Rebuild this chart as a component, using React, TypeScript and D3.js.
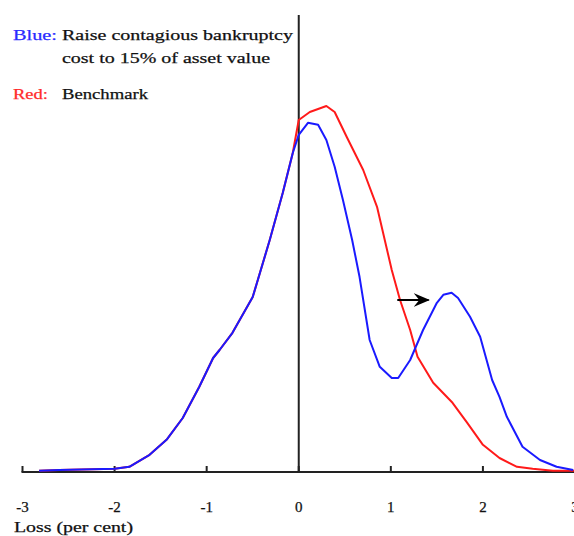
import React from "react";
import * as d3 from "d3";

// Loss (per cent) and density (arbitrary units) for the shared left tail
const leftLoss = [-2.82, -2.6, -2.0, -1.84, -1.62, -1.43, -1.26, -1.08, -0.93, -0.86, -0.72, -0.5, -0.315, -0.174, -0.065];
const leftDensity = [0.003, 0.005, 0.008, 0.013, 0.043, 0.082, 0.135, 0.213, 0.285, 0.305, 0.348, 0.4375, 0.58, 0.6975, 0.7975];

// Benchmark (red)
const redLoss = [0, 0.12, 0.3, 0.39, 0.52, 0.7, 0.85, 1.01, 1.1, 1.21, 1.29, 1.46, 1.67, 1.83, 2.0, 2.18, 2.37, 2.54, 2.76, 2.99];
const redDensity = [0.88, 0.9, 0.915, 0.9, 0.838, 0.755, 0.663, 0.505, 0.43, 0.355, 0.288, 0.223, 0.173, 0.123, 0.068, 0.035, 0.013, 0.008, 0.003, 0.003];

// Raised contagious bankruptcy cost (blue)
const blueLoss = [0, 0.1, 0.21, 0.3, 0.39, 0.48, 0.58, 0.66, 0.77, 0.88, 1.01, 1.08, 1.21, 1.35, 1.5, 1.57, 1.66, 1.73, 1.86, 1.97, 2.1, 2.18, 2.26, 2.43, 2.62, 2.8, 2.98];
const blueDensity = [0.843, 0.873, 0.868, 0.83, 0.763, 0.68, 0.58, 0.488, 0.33, 0.263, 0.235, 0.235, 0.28, 0.355, 0.423, 0.443, 0.448, 0.435, 0.388, 0.338, 0.23, 0.188, 0.138, 0.063, 0.03, 0.013, 0.005];

const tickValues = [-3, -2, -1, 0, 1, 2, 3];

// Shift arrow (loss units, density units)
const arrowFrom = [1.07, 0.43];
const arrowTo = [1.41, 0.43];

type Pt = [number, number];
const toPts = (xs: number[], ys: number[]): Pt[] => xs.map((x, i) => [x, ys[i]]);

export default function App() {
  const W = 574;
  const H = 536;
  const x = d3.scaleLinear().domain([-3, 3]).range([22.5, 575]);
  const y = d3.scaleLinear().domain([0, 1]).range([472, 72]);

  const line = d3
    .line<Pt>()
    .x((d) => x(d[0]))
    .y((d) => y(d[1]));

  const redPts = [...toPts(leftLoss, leftDensity), ...toPts(redLoss, redDensity)];
  const bluePts = [...toPts(leftLoss, leftDensity), ...toPts(blueLoss, blueDensity)];

  const font = "Liberation Serif, Times New Roman, serif";
  const axisColor = "#222";
  const ink = { stroke: "#111", strokeWidth: 0.25 };

  return (
    <svg
      width={W}
      height={H}
      style={{ position: "absolute", left: 0, top: 0, background: "#fff", fontFamily: font }}
    >
      <defs>
        <marker id="head" viewBox="0 0 12 10" refX="11" refY="5" markerWidth="8" markerHeight="7" orient="auto">
          <path d="M0,0 L12,5 L0,10 L4,5 Z" fill="#000" />
        </marker>
      </defs>

      {/* x axis */}
      <line x1={x(-3) - 1} x2={W} y1={y(0)} y2={y(0)} stroke={axisColor} strokeWidth={2} />
      {tickValues.map((t) => (
        <line key={t} x1={x(t)} x2={x(t)} y1={y(0)} y2={y(0) - 6} stroke={axisColor} strokeWidth={2} />
      ))}
      {tickValues.map((t) => (
        <text key={"l" + t} x={x(t)} y={512} fontSize={15} textAnchor="middle" fill="#111" {...ink}>
          {t}
        </text>
      ))}
      <text x={14} y={532} fontSize={15} fill="#111" {...ink} textLength={119} lengthAdjust="spacingAndGlyphs">
        Loss (per cent)
      </text>

      {/* vertical axis at zero loss */}
      <line x1={x(0)} x2={x(0)} y1={15} y2={y(0)} stroke={axisColor} strokeWidth={2} />

      {/* density curves */}
      <path d={line(redPts) ?? ""} fill="none" stroke="#ff1a1a" strokeWidth={2} strokeLinejoin="round" />
      <path d={line(bluePts) ?? ""} fill="none" stroke="#1a1aff" strokeWidth={2} strokeLinejoin="round" />

      {/* shift arrow */}
      <line
        x1={x(arrowFrom[0])}
        y1={y(arrowFrom[1])}
        x2={x(arrowTo[0])}
        y2={y(arrowTo[1])}
        stroke="#000"
        strokeWidth={2}
        markerEnd="url(#head)"
      />

      {/* legend */}
      <text x={13} y={40} fontSize={15} fill="#2a2aff" stroke="#2a2aff" strokeWidth={0.25} textLength={44} lengthAdjust="spacingAndGlyphs">
        Blue:
      </text>
      <text x={62} y={40} fontSize={15} fill="#111" {...ink} textLength={231} lengthAdjust="spacingAndGlyphs">
        Raise contagious bankruptcy
      </text>
      <text x={62} y={63} fontSize={15} fill="#111" {...ink} textLength={208} lengthAdjust="spacingAndGlyphs">
        cost to 15% of asset value
      </text>
      <text x={13} y={99} fontSize={15} fill="#ff2a2a" stroke="#ff2a2a" strokeWidth={0.25} textLength={35} lengthAdjust="spacingAndGlyphs">
        Red:
      </text>
      <text x={62} y={99} fontSize={15} fill="#111" {...ink} textLength={86} lengthAdjust="spacingAndGlyphs">
        Benchmark
      </text>
    </svg>
  );
}
